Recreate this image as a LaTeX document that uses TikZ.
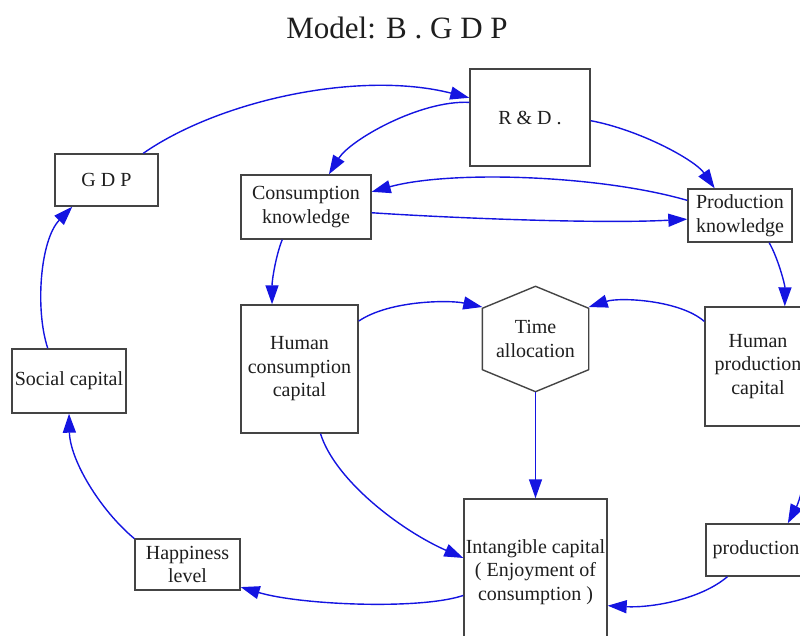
\documentclass[tikz,border=0pt]{standalone}
\usepackage{fontspec}
\setmainfont{Liberation Serif}
\usetikzlibrary{calc,arrows.meta}

\begin{document}
\begin{tikzpicture}[x=1pt,y=1pt,yscale=-1,
    box/.style={draw={rgb,255:red,68;green,68;blue,68},line width=1.4pt,fill=white,
      align=center,inner sep=1pt,text={rgb,255:red,30;green,30;blue,30},
      font=\fontsize{20}{23.5}\selectfont},
    hexbox/.style={box,draw=none,fill=none,minimum width=105,minimum height=104},
    flow/.style={draw={rgb,255:red,20;green,20;blue,225},line width=1.4pt,
      -{Triangle[length=19pt,width=13pt]}}]
    %frame of the picture
    \useasboundingbox (0,0) rectangle (800,636);
    \clip (0,0) rectangle (800,636);

    % Title
    \node[text={rgb,255:red,30;green,30;blue,30},font=\fontsize{31}{36}\selectfont] (title) at (397,28) {Model: B . G D P};

    % Boxes
    \node[box,minimum width=103,minimum height=52] (gdp) at (106.5,180) {G D P};
    \node[box,minimum width=120,minimum height=97] (rnd) at (530,117.5) {R \& D .};
    \node[box,minimum width=130,minimum height=64] (conknow) at (306,207) {Consumption\\knowledge};
    \node[box,minimum width=104,minimum height=53] (prodknow) at (740,215.5) {Production\\knowledge};
    \node[box,minimum width=114,minimum height=64] (social) at (69,381) {Social capital};
    \node[box,minimum width=117,minimum height=128] (humcon) at (299.5,369) {Human\\consumption\\capital};
    \node[box,minimum width=106,minimum height=119] (humprod) at (758,366.5) {Human\\production\\capital};
    \node[box,minimum width=143,minimum height=146] (intang) at (535.5,572) {Intangible capital\\( Enjoyment of\\consumption )};
    \node[box,minimum width=100,minimum height=52] (produc) at (756,550) {production};
    \node[box,minimum width=105,minimum height=51] (happy) at (187.5,564.5) {Happiness\\level};

    % Hexagon
    \node[hexbox] (time) at (535.5,339) {Time\\allocation};
    \draw[draw={rgb,255:red,68;green,68;blue,68},line width=1.4pt,line join=round] (time.north) -- ($(time.north west)+(0,22)$) -- ($(time.south west)+(0,-22)$) -- (time.south) -- ($(time.south east)+(0,-22)$) -- ($(time.north east)+(0,22)$) -- cycle;

    % Connectors
    \draw[flow] (gdp.36) .. controls (220,100) and (360,70) .. (rnd.162);
    \draw[flow] (rnd.166) .. controls (420,100) and (350,140) .. (conknow.55);
    \draw[flow] (rnd.-3) .. controls (640,130) and (695,160) .. (prodknow.133);
    \draw[flow] (prodknow.164) .. controls (600,175) and (450,170) .. (conknow.13);
    \draw[flow] (conknow.-5) .. controls (450,218) and (600,224) .. (prodknow.184);
    \draw[flow] (conknow.234) .. controls (276,255) and (272,280) .. (humcon.113);
    \draw[flow] (prodknow.-43) .. controls (778,258) and (785,285) .. (humprod.66);
    \draw[flow] (humcon.39) .. controls (390,300) and (450,300) .. (time.149);
    \draw[flow] (humprod.140) .. controls (680,300) and (620,297) .. (time.31);
    \draw[flow] (time.south) -- (intang.north);
    \draw[flow] (humcon.-72) .. controls (335,480) and (400,530) .. (intang.169);
    \draw[flow] (humprod.-52) .. controls (812,460) and (800,500) .. (produc.40);
    \draw[flow] (produc.223) .. controls (700,600) and (650,608) .. (intang.-25);
    \draw[flow] (intang.198) .. controls (420,610) and (300,605) .. (happy.-23);
    \draw[flow] (happy.154) .. controls (100,510) and (70,460) .. (social.south);
    \draw[flow] (social.123) .. controls (35,310) and (40,240) .. (gdp.218);
\end{tikzpicture}
\end{document}
